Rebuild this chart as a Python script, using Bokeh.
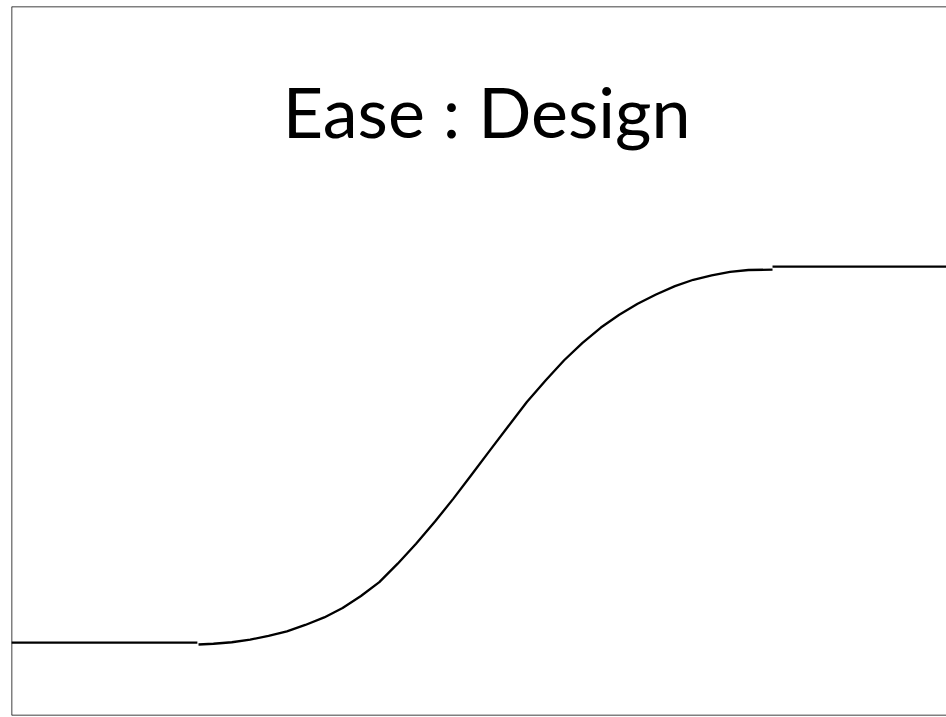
from bokeh.plotting import figure
from bokeh.models import Range1d, Span, Label
from bokeh.embed import file_html
from bokeh.resources import INLINE

# Normalised time (x) and progress (y) of the easing curve
curve_t = [0.0, 0.026, 0.058, 0.090, 0.122, 0.154, 0.186, 0.219, 0.251, 0.283,
           0.315, 0.347, 0.379, 0.412, 0.444, 0.476, 0.508, 0.540, 0.572, 0.605,
           0.637, 0.669, 0.701, 0.733, 0.765, 0.797, 0.830, 0.862, 0.894, 0.926,
           0.958, 1.0]
curve_p = [0.0, 0.002, 0.006, 0.013, 0.023, 0.035, 0.052, 0.072, 0.097, 0.129,
           0.166, 0.215, 0.268, 0.327, 0.388, 0.452, 0.517, 0.581, 0.645, 0.703,
           0.756, 0.802, 0.843, 0.877, 0.906, 0.931, 0.953, 0.970, 0.982, 0.991,
           0.996, 0.997]

# Flat hold segments before and after the transition
before_t = [-0.326, -0.002]
before_p = [0.005, 0.005]
after_t = [1.0, 1.303]
after_p = [1.005, 1.005]

title_text = "Ease : Design"

p = figure(width=946, height=717, output_backend="svg", toolbar_location=None,
           x_range=Range1d(-0.3258, 1.3031), y_range=Range1d(-0.1888, 1.6968),
           min_border_left=11, min_border_right=0, min_border_top=6,
           min_border_bottom=2)
p.outline_line_color = None
p.axis.visible = False
p.grid.visible = False
p.background_fill_color = "white"
p.border_fill_color = "white"

p.line(before_t, before_p, line_color="black", line_width=2.3)
p.line(curve_t, curve_p, line_color="black", line_width=2.3, line_join="round")
p.line(after_t, after_p, line_color="black", line_width=2.3)

# frame (left, top, bottom)
p.add_layout(Span(location=-0.3258, dimension="height", line_color="black", line_width=1.5))
p.add_layout(Span(location=1.6968, dimension="width", line_color="black", line_width=1.5))
p.add_layout(Span(location=-0.1888, dimension="width", line_color="black", line_width=1.5))

p.add_layout(Label(x=0.502, y=1.4176, text=title_text, text_align="center",
                   text_baseline="alphabetic", text_font="Lato",
                   text_font_size="70px", text_color="black"))

open("out.html", "w").write(file_html(p, INLINE))
